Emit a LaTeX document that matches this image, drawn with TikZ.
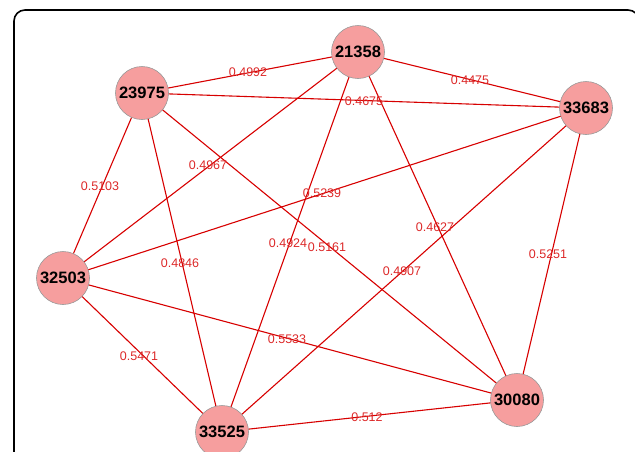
\documentclass[tikz,border=0pt]{standalone}
\usepackage{fontspec}
\setmainfont{Liberation Sans}
\definecolor{nodefill}{RGB}{246,158,158}
\definecolor{edgered}{RGB}{215,0,0}
\definecolor{labred}{RGB}{220,40,40}
\begin{document}
\begin{tikzpicture}[x=1pt,y=-1pt,
  vert/.style={circle,fill=nodefill,draw=gray!80,line width=0.6pt,minimum size=53pt,inner sep=0pt,font=\fontsize{16.5}{16.5}\selectfont\bfseries},
  edge/.style={draw=edgered,line width=1.1pt},
  wlab/.style={text=labred,font=\fontsize{12.5}{12.5}\selectfont,inner sep=0pt}]
\useasboundingbox (0,0) rectangle (635,451);
\draw[line width=1.6pt,rounded corners=11pt] (14,470) -- (14,10) -- (639,10) -- (639,470);
\coordinate (A) at (142,93);
\coordinate (B) at (358,52);
\coordinate (C) at (586,108);
\coordinate (D) at (63,278);
\coordinate (E) at (222,432);
\coordinate (F) at (517,400);
\draw[edge] (A) -- (B);
\draw[edge] (A) -- (C);
\draw[edge] (B) -- (C);
\draw[edge] (A) -- (D);
\draw[edge] (A) -- (E);
\draw[edge] (A) -- (F);
\draw[edge] (B) -- (D);
\draw[edge] (B) -- (E);
\draw[edge] (B) -- (F);
\draw[edge] (C) -- (D);
\draw[edge] (C) -- (E);
\draw[edge] (C) -- (F);
\draw[edge] (D) -- (E);
\draw[edge] (D) -- (F);
\draw[edge] (E) -- (F);
\node[wlab] (lab) at (248,72) {0.4992};
\node[wlab] (lac) at (364,101) {0.4675};
\node[wlab] (lbc) at (470,80) {0.4475};
\node[wlab] (lad) at (100,186) {0.5103};
\node[wlab] (lbd) at (208,165) {0.4967};
\node[wlab] (lcd) at (322,193) {0.5239};
\node[wlab] (lbe) at (288,243) {0.4924};
\node[wlab] (laf) at (327,247) {0.5161};
\node[wlab] (lae) at (180,263) {0.4846};
\node[wlab] (lbf) at (435,227) {0.4627};
\node[wlab] (lce) at (402,271) {0.4907};
\node[wlab] (lcf) at (548,254) {0.5251};
\node[wlab] (ldf) at (287,339) {0.5533};
\node[wlab] (lde) at (139,356) {0.5471};
\node[wlab] (lef) at (367,417) {0.512};
\node[vert] (n23975) at (A) {23975};
\node[vert] (n21358) at (B) {21358};
\node[vert] (n33683) at (C) {33683};
\node[vert] (n32503) at (D) {32503};
\node[vert] (n33525) at (E) {33525};
\node[vert] (n30080) at (F) {30080};
\end{tikzpicture}
\end{document}
